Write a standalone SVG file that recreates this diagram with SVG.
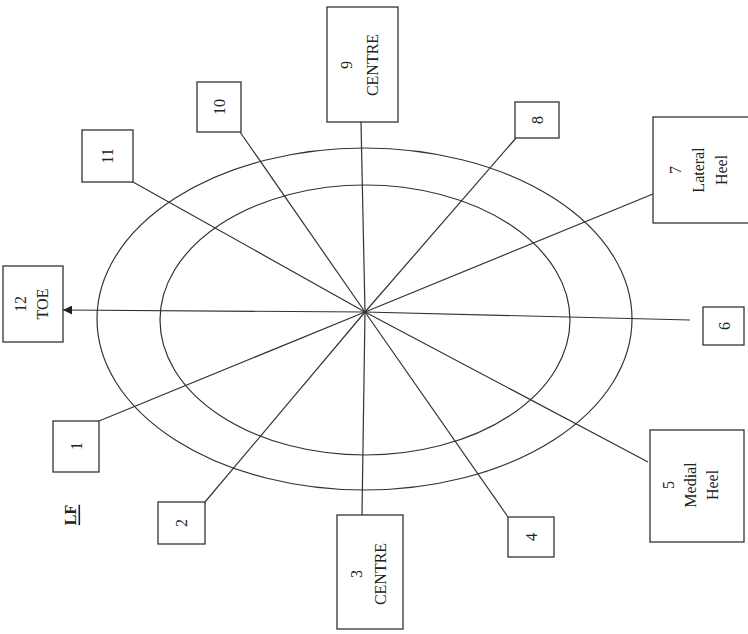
<svg xmlns="http://www.w3.org/2000/svg" width="748" height="634" viewBox="0 0 748 634">
<style>
.box{fill:#fff;stroke:#333;stroke-width:1.3}
.ln{stroke:#333;stroke-width:1.2;fill:none}
.t{font-family:"Liberation Serif","Times New Roman",serif;font-size:16px;fill:#222;text-anchor:middle;dominant-baseline:central}
.lf{font-family:"Liberation Serif","Times New Roman",serif;font-size:16px;font-weight:bold;fill:#222;text-anchor:middle;dominant-baseline:central;text-decoration:underline}
</style>
<defs>
<marker id="arr" viewBox="0 0 10 10" refX="10" refY="5" markerWidth="9" markerHeight="9" orient="auto" markerUnits="userSpaceOnUse">
<path d="M0,0 L10,5 L0,10 z" fill="#222"/>
</marker>
</defs>
<rect width="748" height="634" fill="#fff"/>
<g id="ellipses">
<ellipse class="ln" cx="364.5" cy="319" rx="267.5" ry="171"/>
<ellipse class="ln" cx="365" cy="320" rx="205" ry="135"/>
</g>
<g id="connectors">
<line class="ln" x1="365" y1="312" x2="63" y2="310" marker-end="url(#arr)"/>
<line class="ln" x1="365" y1="312" x2="690" y2="320"/>
<line class="ln" x1="365" y1="312" x2="361" y2="122"/>
<line class="ln" x1="365" y1="312" x2="362" y2="515"/>
<line class="ln" x1="365" y1="312" x2="133" y2="182"/>
<line class="ln" x1="365" y1="312" x2="240" y2="132"/>
<line class="ln" x1="365" y1="312" x2="516" y2="138"/>
<line class="ln" x1="365" y1="312" x2="653" y2="194"/>
<line class="ln" x1="365" y1="312" x2="648" y2="462"/>
<line class="ln" x1="365" y1="312" x2="508" y2="517"/>
<line class="ln" x1="365" y1="312" x2="205" y2="502"/>
<line class="ln" x1="365" y1="312" x2="99" y2="421"/>
</g>
<g id="n12"><rect class="box" x="3" y="266" width="60" height="76"/>
<text class="t" transform="translate(20,304) rotate(-90)">12</text>
<text class="t" transform="translate(42,304) rotate(-90)">TOE</text></g>
<g id="n9"><rect class="box" x="327" y="7" width="71" height="115"/>
<text class="t" transform="translate(346,65) rotate(-90)">9</text>
<text class="t" transform="translate(372,65) rotate(-90)">CENTRE</text></g>
<g id="n3"><rect class="box" x="337" y="515" width="66" height="114"/>
<text class="t" transform="translate(356,574) rotate(-90)">3</text>
<text class="t" transform="translate(380,574) rotate(-90)">CENTRE</text></g>
<g id="n7"><rect class="box" x="653" y="117" width="100" height="106"/>
<text class="t" transform="translate(675,170) rotate(-90)">7</text>
<text class="t" transform="translate(698,170) rotate(-90)">Lateral</text>
<text class="t" transform="translate(721,170) rotate(-90)">Heel</text></g>
<g id="n5"><rect class="box" x="650" y="430" width="94" height="112"/>
<text class="t" transform="translate(668,485) rotate(-90)">5</text>
<text class="t" transform="translate(690,485) rotate(-90)">Medial</text>
<text class="t" transform="translate(712,485) rotate(-90)">Heel</text></g>
<g id="n6"><rect class="box" x="703" y="307" width="41" height="38"/>
<text class="t" transform="translate(724,326) rotate(-90)">6</text></g>
<g id="n8"><rect class="box" x="515" y="102" width="44" height="36"/>
<text class="t" transform="translate(537,120) rotate(-90)">8</text></g>
<g id="n10"><rect class="box" x="197" y="82" width="44" height="50"/>
<text class="t" transform="translate(219,107) rotate(-90)">10</text></g>
<g id="n11"><rect class="box" x="82" y="130" width="51" height="52"/>
<text class="t" transform="translate(107,156) rotate(-90)">11</text></g>
<g id="n1"><rect class="box" x="53" y="421" width="46" height="51"/>
<text class="t" transform="translate(76,446) rotate(-90)">1</text></g>
<g id="n2"><rect class="box" x="158" y="502" width="47" height="42"/>
<text class="t" transform="translate(181,523) rotate(-90)">2</text></g>
<g id="n4"><rect class="box" x="508" y="517" width="46" height="40"/>
<text class="t" transform="translate(531,537) rotate(-90)">4</text></g>
<g id="lf"><text class="lf" transform="translate(70,515) rotate(-90)">LF</text></g>
</svg>
